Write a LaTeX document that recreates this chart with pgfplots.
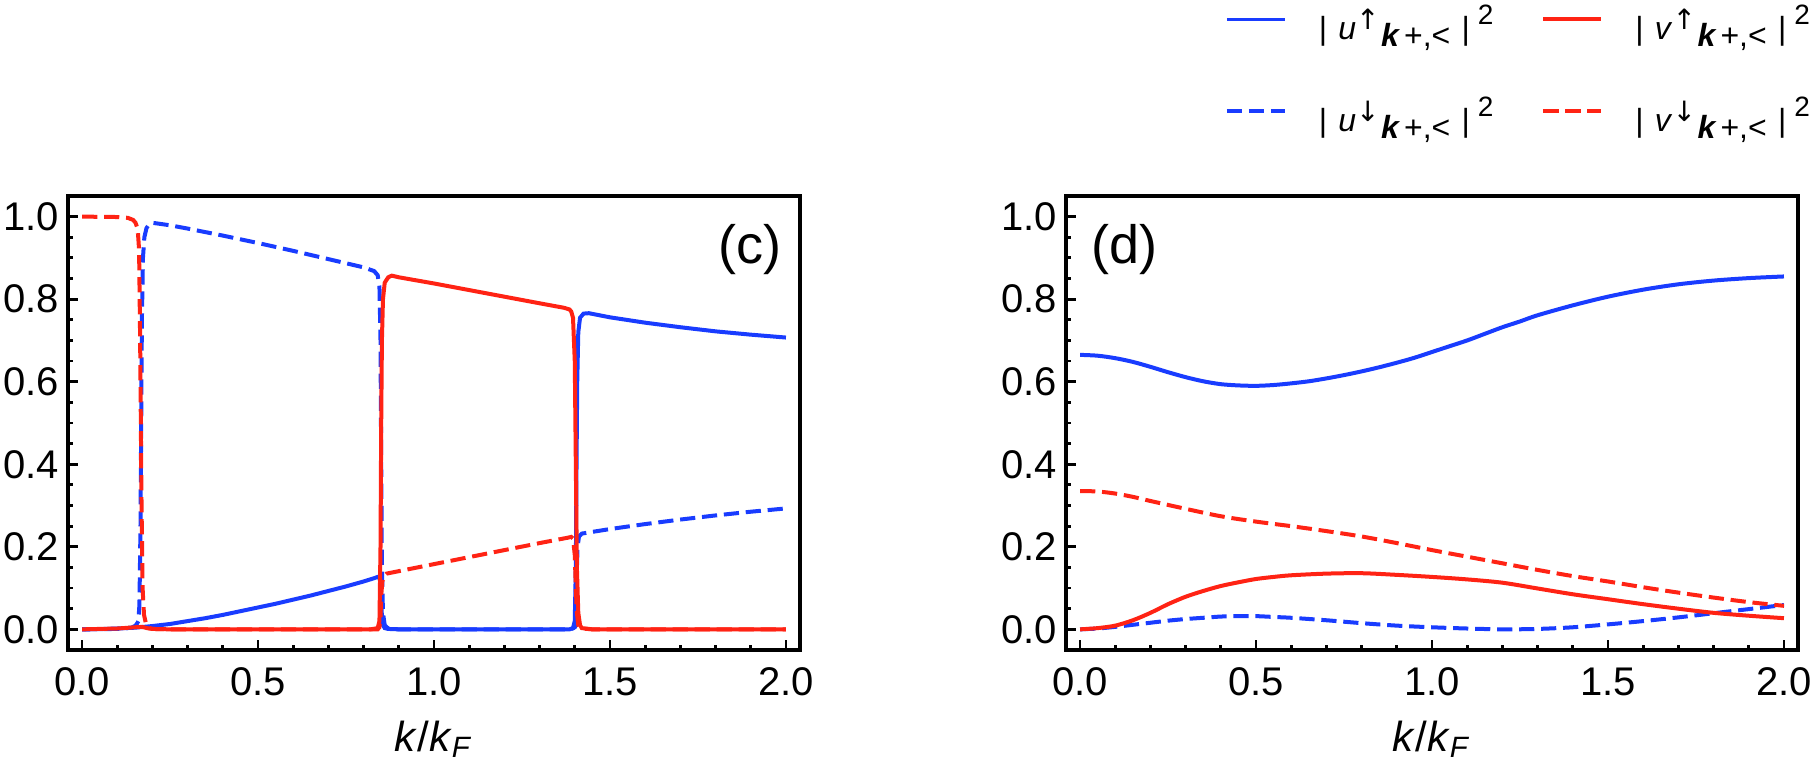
\documentclass[border=0pt]{standalone}
\usepackage{pgfplots}
\usepackage{pgfplotstable}
\pgfplotsset{compat=1.18}
\usepackage{fontspec}
\setmainfont{Liberation Sans}
\newfontfamily\arrowfont{DejaVu Sans}

\definecolor{mblue}{RGB}{25,60,255}
\definecolor{mred}{RGB}{255,35,20}

% ---------- panel (c): sharp band crossings ----------
\pgfplotstableread{
x y
0 0
0.05 0.0005
0.1 0.002
0.15 0.004
0.2 0.008
0.25 0.013
0.3 0.02
0.35 0.027
0.4 0.035
0.45 0.044
0.5 0.053
0.55 0.062
0.6 0.072
0.65 0.082
0.7 0.093
0.75 0.104
0.8 0.116
0.83 0.124
0.84 0.127
0.845 0.125
0.848 0.11
0.85 0.07
0.852 0.03
0.855 0.01
0.86 0.003
0.87 0.001
0.9 0
1.385 0
1.395 0.003
1.4 0.02
1.403 0.15
1.405 0.4
1.407 0.6
1.41 0.72
1.415 0.755
1.425 0.765
1.44 0.766
1.5 0.756
1.6 0.743
1.7 0.732
1.8 0.722
1.9 0.714
2.0 0.707
}\cUup
\pgfplotstableread{
x y
0 0
0.1 0.001
0.14 0.004
0.15 0.008
0.155 0.012
0.16 0.02
0.163 0.06
0.166 0.25
0.168 0.5
0.17 0.75
0.173 0.9
0.177 0.95
0.183 0.972
0.19 0.981
0.2 0.985
0.25 0.979
0.3 0.971
0.4 0.954
0.5 0.936
0.6 0.917
0.7 0.897
0.8 0.877
0.83 0.868
0.84 0.858
0.845 0.83
0.848 0.7
0.85 0.4
0.852 0.15
0.855 0.04
0.86 0.01
0.87 0.002
0.9 0
1.39 0
1.4 0.005
1.403 0.05
1.405 0.12
1.408 0.2
1.412 0.225
1.42 0.232
1.5 0.243
1.6 0.255
1.7 0.266
1.8 0.276
1.9 0.285
2.0 0.293
}\cUdn
\pgfplotstableread{
x y
0 0
0.1 0.002
0.15 0.005
0.17 0.006
0.18 0.004
0.19 0.002
0.2 0.001
0.25 0
0.82 0
0.84 0.003
0.845 0.02
0.848 0.2
0.85 0.5
0.852 0.7
0.855 0.8
0.86 0.84
0.87 0.853
0.88 0.857
0.9 0.853
1.0 0.838
1.1 0.822
1.2 0.806
1.3 0.79
1.37 0.779
1.385 0.775
1.39 0.77
1.395 0.755
1.4 0.65
1.403 0.4
1.406 0.15
1.41 0.04
1.415 0.01
1.42 0.003
1.45 0
2.0 0
}\cVup
\pgfplotstableread{
x y
0 1.0
0.1 0.999
0.13 0.997
0.145 0.992
0.152 0.985
0.158 0.97
0.162 0.92
0.165 0.7
0.167 0.5
0.169 0.3
0.172 0.1
0.176 0.035
0.182 0.012
0.19 0.004
0.2 0.001
0.25 0
0.84 0
0.845 0.005
0.848 0.03
0.85 0.08
0.853 0.115
0.857 0.128
0.865 0.135
0.9 0.141
1.0 0.158
1.1 0.175
1.2 0.192
1.3 0.209
1.38 0.222
1.39 0.224
1.395 0.22
1.4 0.18
1.403 0.1
1.406 0.04
1.41 0.01
1.42 0.002
1.45 0
2.0 0
}\cVdn

% ---------- panel (d): smooth weights ----------
\pgfplotstableread{
x y
0 0.665
0.05 0.663
0.1 0.657
0.15 0.648
0.2 0.636
0.25 0.623
0.3 0.611
0.35 0.601
0.4 0.594
0.45 0.591
0.5 0.590
0.55 0.592
0.6 0.596
0.65 0.601
0.7 0.608
0.75 0.616
0.8 0.625
0.85 0.635
0.9 0.646
0.95 0.658
1.0 0.672
1.05 0.686
1.1 0.700
1.15 0.716
1.2 0.732
1.25 0.746
1.3 0.761
1.4 0.785
1.5 0.806
1.6 0.823
1.7 0.836
1.8 0.845
1.9 0.851
2.0 0.855
}\dUup
\pgfplotstableread{
x y
0 0
0.05 0.002
0.1 0.006
0.15 0.011
0.2 0.016
0.25 0.021
0.3 0.025
0.35 0.028
0.4 0.031
0.45 0.032
0.5 0.032
0.55 0.03
0.6 0.028
0.7 0.022
0.8 0.015
0.9 0.009
1.0 0.005
1.1 0.002
1.2 0.0
1.3 0.001
1.4 0.005
1.5 0.012
1.6 0.02
1.7 0.029
1.8 0.039
1.9 0.049
2.0 0.059
}\dUdn
\pgfplotstableread{
x y
0 0
0.05 0.003
0.1 0.009
0.15 0.022
0.2 0.04
0.25 0.061
0.3 0.079
0.35 0.093
0.4 0.105
0.45 0.114
0.5 0.122
0.55 0.127
0.6 0.131
0.7 0.135
0.8 0.136
0.9 0.132
1.0 0.127
1.1 0.121
1.2 0.113
1.3 0.099
1.4 0.085
1.5 0.073
1.6 0.061
1.7 0.050
1.8 0.040
1.9 0.033
2.0 0.027
}\dVup
\pgfplotstableread{
x y
0 0.335
0.05 0.334
0.1 0.329
0.15 0.321
0.2 0.311
0.3 0.292
0.4 0.274
0.5 0.261
0.6 0.250
0.7 0.238
0.8 0.225
0.9 0.209
1.0 0.192
1.1 0.176
1.2 0.160
1.3 0.144
1.4 0.129
1.5 0.116
1.6 0.102
1.7 0.089
1.8 0.077
1.9 0.066
2.0 0.057
}\dVdn

\newcommand{\legtext}[2]{|\hspace{0.35em}\textit{#1}\raisebox{0.3em}{\arrowfont\fontsize{7}{8}\selectfont #2}\hspace{0.05em}\raisebox{-0.22em}{\textbf{\textit{k}}\hspace{0.12em}+,<}\hspace{0.35em}|\hspace{0.25em}\raisebox{0.45em}{\fontsize{7}{8}\selectfont 2}}

\pgfplotsset{
  panel/.style={
    scale only axis, width=183pt, height=113.5pt,
    xmin=-0.04, xmax=2.04, ymin=-0.05, ymax=1.05,
    axis line style={line width=0.8pt},
    tick style={line width=0.7pt, black},
    major tick length=2.5pt, minor tick length=1.3pt,
    tick align=inside, tick pos=left,
    xtick={0,0.5,1,1.5,2}, xticklabels={0.0,0.5,1.0,1.5,2.0},
    minor x tick num=4,
    ytick={0,0.2,0.4,0.6,0.8,1}, yticklabels={0.0,0.2,0.4,0.6,0.8,1.0},
    minor y tick num=3,
    ticklabel style={font=\fontsize{10}{12}\selectfont},
    xticklabel style={anchor=north, inner sep=0pt, yshift=-4.25pt},
    yticklabel style={anchor=east, inner sep=0pt, xshift=-2pt},
    xlabel={\textit{k}/\textit{k}\textsubscript{\textit{F}}},
    xlabel style={at={(axis description cs:0.5,0)}, anchor=north, inner sep=0pt,
      yshift=-17.5pt, font=\fontsize{10.5}{12}\selectfont},
    every axis plot/.append style={line width=1pt},
  },
  ssolid/.style={solid},
  sdash/.style={dash pattern=on 3.8pt off 1.7pt},
}

\begin{document}
\begin{tikzpicture}
\useasboundingbox (0,0) rectangle (454.75pt,191.75pt);

\begin{axis}[panel, at={(17pt,29.25pt)}, anchor=south west]
  \addplot[mblue, ssolid] table {\cUup};
  \addplot[mblue, sdash] table {\cUdn};
  \addplot[mred, ssolid] table {\cVup};
  \addplot[mred, sdash] table {\cVdn};
  \node[font=\fontsize{13.5}{15}\selectfont] at (axis cs:1.897,0.92) {(c)};
\end{axis}

\begin{axis}[panel, at={(266.5pt,29.25pt)}, anchor=south west,
  legend columns=2,
  legend image code/.code={\draw[#1] (0pt,1.5pt) -- (14.5pt,1.5pt);},
  legend style={draw=none, fill=none, at={(axis description cs:0.2158,1.4216)},
    anchor=north west, inner sep=0pt, row sep=13pt,
    font=\fontsize{8}{9}\selectfont, nodes={inner sep=0pt},
    /tikz/every odd column/.append style={column sep=8pt},
    /tikz/every even column/.append style={column sep=12pt}},
  legend cell align=left]
  \addplot[mblue, ssolid, smooth, forget plot] table {\dUup};
  \addplot[mblue, sdash, smooth, forget plot] table {\dUdn};
  \addplot[mred, ssolid, smooth, forget plot] table {\dVup};
  \addplot[mred, sdash, smooth, forget plot] table {\dVdn};
  \node[font=\fontsize{13.5}{15}\selectfont] at (axis cs:0.127,0.92) {(d)};
  \addlegendimage{mblue, line width=0.6pt}
  \addlegendentry{\legtext{u}{↑}}
  \addlegendimage{mred, line width=1pt}
  \addlegendentry{\legtext{v}{↑}}
  \addlegendimage{mblue, line width=1pt, sdash}
  \addlegendentry{\legtext{u}{↓}}
  \addlegendimage{mred, line width=1pt, sdash}
  \addlegendentry{\legtext{v}{↓}}
\end{axis}
\end{tikzpicture}
\end{document}
